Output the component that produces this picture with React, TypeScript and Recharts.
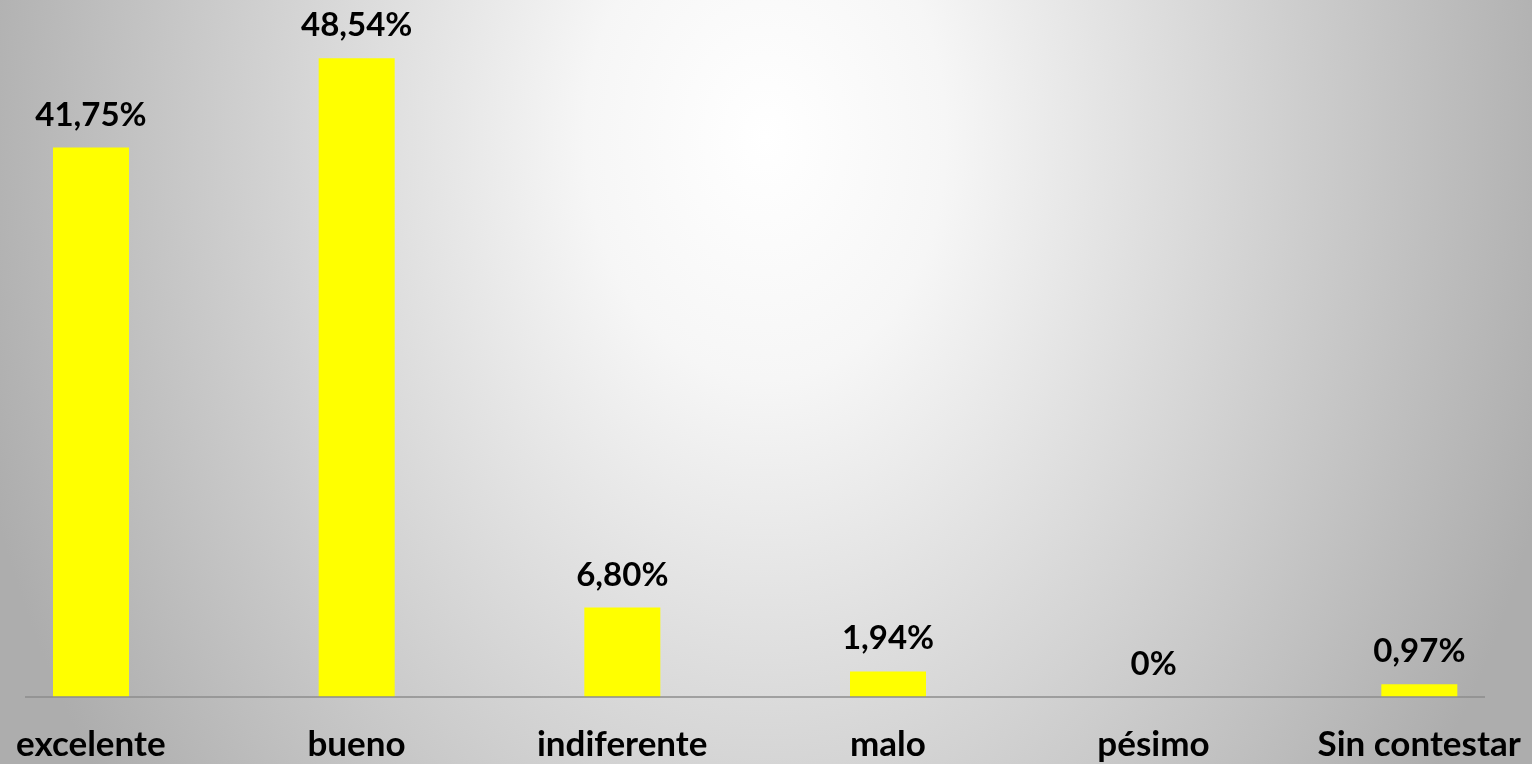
import React from 'react';
import { BarChart, Bar, XAxis, YAxis, LabelList } from 'recharts';

const categories = ['excelente', 'bueno', 'indiferente', 'malo', 'pésimo', 'Sin contestar'];
const percentages = [41.75, 48.54, 6.8, 1.94, 0, 0.97];

const data = categories.map((name, i) => ({ name, value: percentages[i] }));

const FONT = 'Lato, "Open Sans", sans-serif';

// 41.75 -> "41,75%", 0 -> "0%"
const formatPct = (v: any) => (Number(v) === 0 ? '0%' : Number(v).toFixed(2).replace('.', ',') + '%');

const CategoryTick = (props: any) => {
    const { x, y, payload } = props;
    return (
        <text x={x} y={y + 59} textAnchor="middle" fill="#000" fontFamily={FONT} fontWeight={700} fontSize={35}>
            {payload.value}
        </text>
    );
};

export default function App() {
    return (
        <div
            style={{
                position: 'fixed',
                top: 0,
                left: 0,
                width: 1532,
                height: 764,
                overflow: 'hidden',
                background:
                    'radial-gradient(ellipse 820px 1100px at 50% 18%, #ffffff 0%, #f6f6f6 22%, #adadad 100%)',
            }}
        >
            <BarChart width={1532} height={764} data={data} margin={{ top: 39, right: 47, bottom: 7, left: 25 }}>
                <XAxis
                    dataKey="name"
                    height={60}
                    padding={{ left: -67, right: -67 }}
                    axisLine={{ stroke: '#8c8c8c', strokeWidth: 1.5 }}
                    tickLine={false}
                    tickSize={0}
                    tickMargin={0}
                    interval={0}
                    tick={<CategoryTick />}
                />
                <YAxis hide domain={[0, 50]} />
                <Bar dataKey="value" fill="#ffff00" barSize={76} minPointSize={0.01} isAnimationActive={false}>
                    <LabelList
                        dataKey="value"
                        position="top"
                        offset={22}
                        formatter={formatPct}
                        fill="#000"
                        fontFamily={FONT}
                        fontWeight={700}
                        fontSize={33}
                    />
                </Bar>
            </BarChart>
        </div>
    );
}
